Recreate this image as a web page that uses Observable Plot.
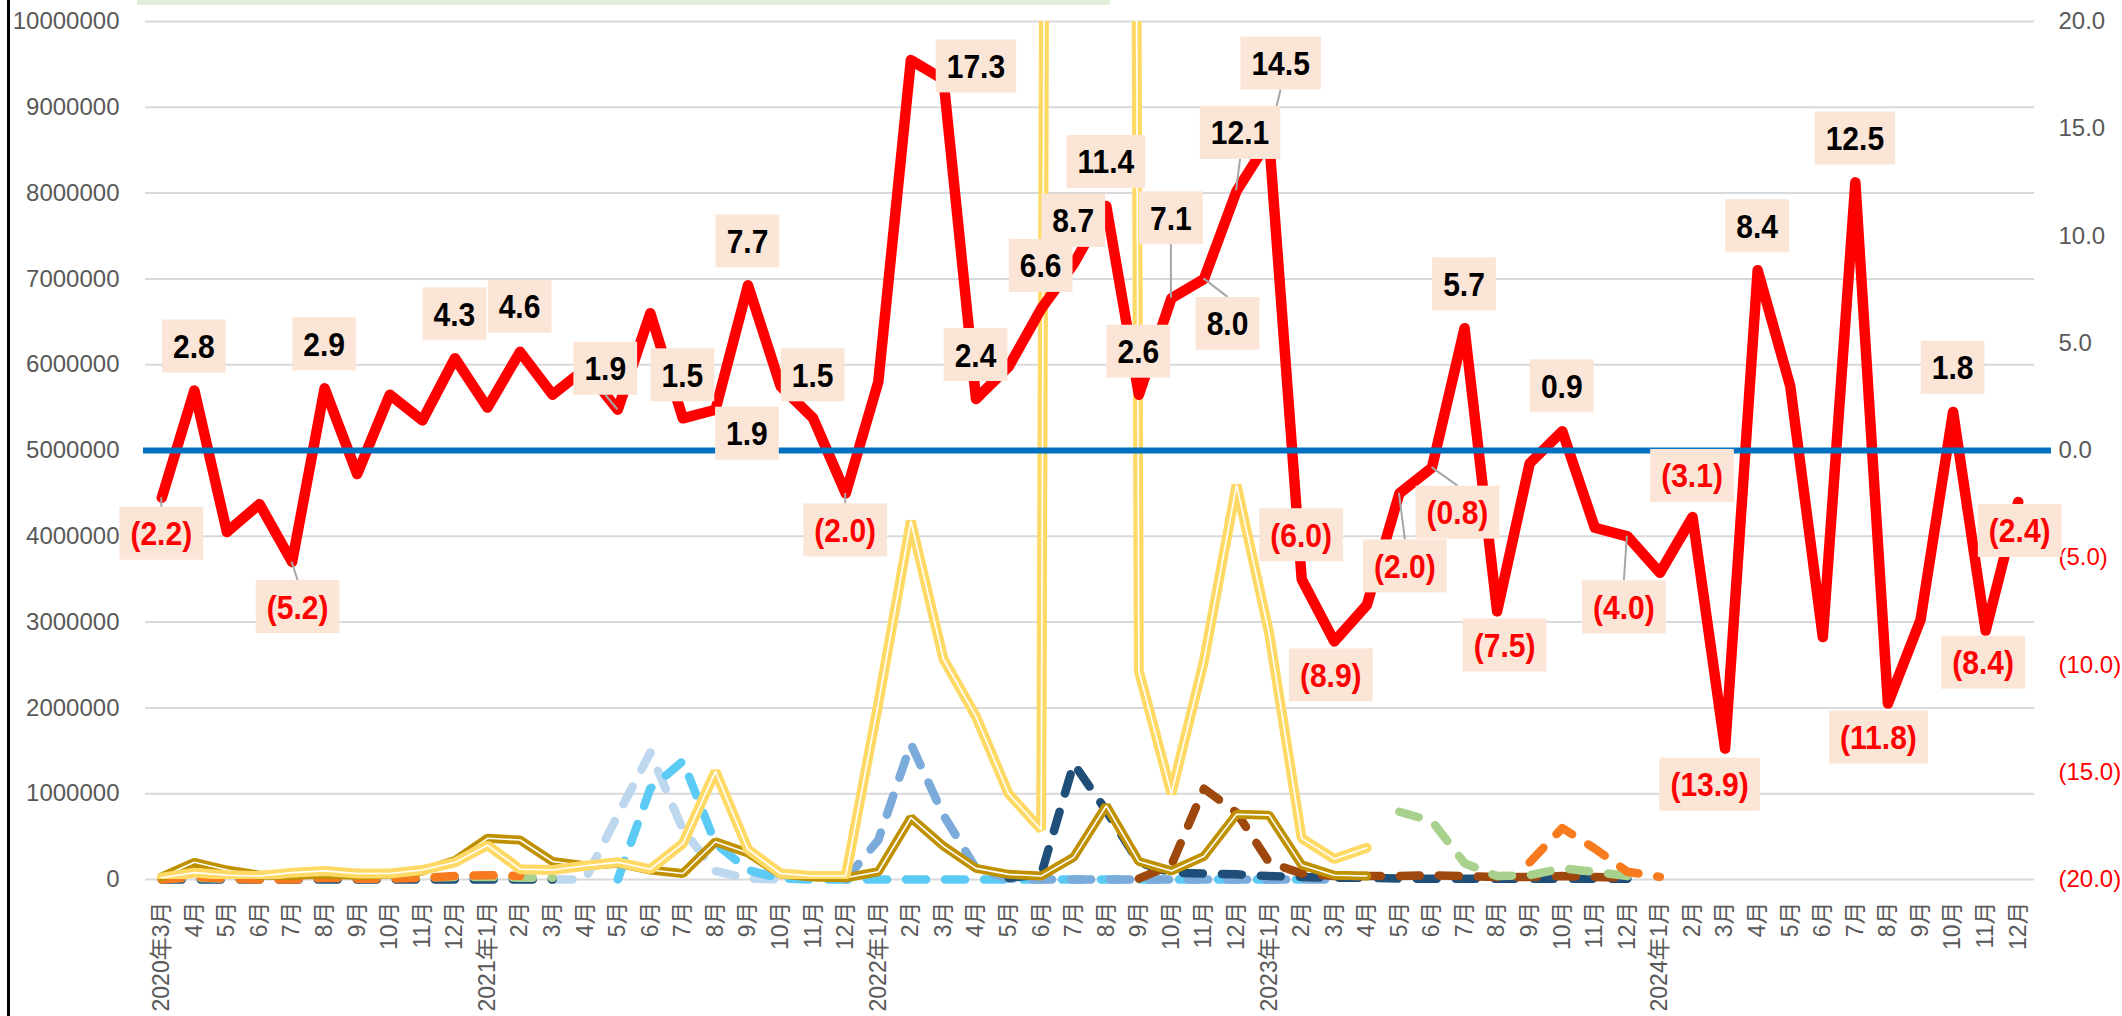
<!DOCTYPE html>
<html>
<head>
<meta charset="utf-8">
<script src="https://cdn.jsdelivr.net/npm/d3@7"></script>
<script src="https://cdn.jsdelivr.net/npm/@observablehq/plot@0.6"></script>
<style>
  html, body { margin: 0; padding: 0; background: #ffffff; }
  #wrap { position: relative; width: 2122px; height: 1016px; overflow: hidden; background: #fff; }
  #chart svg { display: block; }
  #border { position: absolute; left: 7px; top: 0; width: 3px; height: 1016px; background: #000; }
  #titlebar { position: absolute; left: 137px; top: 0; width: 973px; height: 5px; background: #E2EFDA; }
</style>
</head>
<body>
<div id="wrap"><div id="chart"></div><div id="border"></div><div id="titlebar"></div></div>
<script>
// ---------- categories ----------
const years = [2020, 2021, 2022, 2023, 2024];
const firstMonth = {2020: 3};
const months = [];      // keys
const monthLabels = {}; // tick labels
for (const y of years) {
  for (let m = firstMonth[y] || 1; m <= 12; m++) {
    const key = `${y}-${String(m).padStart(2, "0")}`;
    months.push(key);
    monthLabels[key] = (months.length === 1 || m === 1) ? `${y}年${m}月` : `${m}月`;
  }
}

// ---------- right axis series (growth rate, %) ----------
const redRate = [
  -2.2, 2.8, -3.8, -2.5, -5.2, 2.9, -1.1, 2.6, 1.4, 4.3,
  2.0, 4.6, 2.6, 3.8, 1.9, 6.4, 1.5, 1.9, 7.7, 3.0, 1.5, -2.0,
  3.2, 18.2, 17.3, 2.4, 3.9, 6.6, 8.7, 11.4, 2.6, 7.1, 8.0, 12.1,
  14.5, -6.0, -8.9, -7.2, -2.0, -0.8, 5.7, -7.5, -0.6, 0.9, -3.6, -4.0,
  -5.7, -3.1, -13.9, 8.4, 3.0, -8.7, 12.5, -11.8, -7.9, 1.8, -8.4, -2.4
];

// ---------- left axis series (counts) ----------
const _ = null;
const yellowSeries = [
  20000, 80000, 50000, 40000, 80000, 100000, 70000, 70000, 110000, 200000,
  400000, 120000, 110000, 160000, 200000, 120000, 420000, 1260000, 350000, 70000, 40000, 40000,
  2050000, 4180000, 2570000, 1900000, 1000000, 580000, 110000000, 115000000, 2430000, 1000000, 2550000, 4600000,
  2870000, 480000, 240000, 370000, _, _, _, _, _, _, _, _,
  _, _, _, _, _, _, _, _, _, _, _, _
];
const goldSeries = [
  30000, 200000, 110000, 50000, 50000, 60000, 50000, 60000, 100000, 220000,
  480000, 460000, 210000, 160000, 190000, 110000, 70000, 440000, 310000, 60000, 30000, 20000,
  90000, 720000, 390000, 130000, 60000, 40000, 260000, 860000, 210000, 100000, 270000, 760000,
  750000, 170000, 50000, 40000, _, _, _, _, _, _, _, _,
  _, _, _, _, _, _, _, _, _, _, _, _
];
const paleBlueSeries = [
  _, _, _, _, _, _, _, _, _, _,
  _, _, 0, 0, 750000, 1480000, 580000, 100000, 10000, 0, _, _,
  _, _, _, _, _, _, _, _, _, _, _, _,
  _, _, _, _, _, _, _, _, _, _, _, _,
  _, _, _, _, _, _, _, _, _, _, _, _
];
const cyanSeries = [
  _, _, _, _, _, _, _, _, _, _,
  _, _, _, _, 0, 1060000, 1380000, 420000, 110000, 10000, 0, 0,
  0, 0, 0, 0, 0, 0, 0, 0, 0, 0, 0, 0,
  0, 0, _, _, _, _, _, _, _, _, _, _,
  _, _, _, _, _, _, _, _, _, _, _, _
];
const midBlueSeries = [
  _, _, _, _, _, _, _, _, _, _,
  _, _, _, _, _, _, _, _, _, _, _, 0,
  460000, 1580000, 750000, 130000, 10000, 0, 0, 0, 0, 0, 0, 0,
  0, 0, 0, _, _, _, _, _, _, _, _, _,
  _, _, _, _, _, _, _, _, _, _, _, _
];
const navySeries = [
  0, 0, 0, 0, 0, 0, 0, 0, 0, 0,
  0, 0, 0, _, _, _, _, _, _, _, _, _,
  _, _, _, _, 20000, 60000, 1350000, 800000, 200000, 80000, 70000, 60000,
  40000, 30000, 20000, 20000, 10000, 10000, 10000, 10000, 10000, 10000, 10000, 10000,
  _, _, _, _, _, _, _, _, _, _, _, _
];
const brownSeries = [
  _, _, _, _, _, _, _, _, _, _,
  _, _, _, _, _, _, _, _, _, _, _, _,
  _, _, _, _, _, _, _, _, 10000, 170000, 1060000, 780000,
  200000, 70000, 40000, 40000, 40000, 50000, 40000, 30000, 30000, 40000, 30000, 20000,
  _, _, _, _, _, _, _, _, _, _, _, _
];
const greenSeries = [
  10000, 20000, 10000, 10000, 10000, 20000, 20000, 20000, 20000, 30000,
  30000, 20000, 20000, _, _, _, _, _, _, _, _, _,
  _, _, _, _, _, _, _, _, _, _, _, _,
  _, _, _, _, 790000, 680000, 190000, 40000, 50000, 130000, 90000, 40000,
  _, _, _, _, _, _, _, _, _, _, _, _
];
const orangeSeries = [
  0, 30000, 10000, 0, 0, 20000, 10000, 10000, 20000, 40000,
  50000, 40000, _, _, _, _, _, _, _, _, _, _,
  _, _, _, _, _, _, _, _, _, _, _, _,
  _, _, _, _, _, _, _, _, 200000, 600000, 360000, 90000,
  30000, _, _, _, _, _, _, _, _, _, _, _
];

// ---------- axes ticks ----------
const leftTicks = [0, 1000000, 2000000, 3000000, 4000000, 5000000, 6000000, 7000000, 8000000, 9000000, 10000000];
const rightTicks = [20, 15, 10, 5, 0, -5, -10, -15, -20];

// ---------- labelled points of the red series ----------
const labelIdx    = [0, 1, 4, 5, 9, 11, 14, 16, 17, 18, 20, 21, 24, 25, 27, 28, 29, 30, 31, 32, 33, 34, 35, 36, 38, 39, 40, 41, 43, 45, 47, 48, 49, 52, 53, 55, 56, 57];
// label placement (offset of box centre from the point, px) and leader-line flag
const labelDx     = [0, 0, 6, 0, 0, 0, -12, 0, 32, 0, 0, 0, 33, 0, 0, 0, 0, 0, 0, 24, 4, 12, 0, -3, 6, 26, 0, 8, 0, -3, 0, -15, 0, 0, -9, 0, -2, 2];
const labelDy     = [36, -44, 45, -44, -44, -45, -41, -43, 24, -44, -43, 37, -13, -44, -43, -43, -44, -43, -80, 45, -58, -76, -44, 34, 73, 45, -44, 34, -45, 71, -41, 36, -44, -44, 34, -44, 32, 29];
const labelLeader = [1, 0, 1, 0, 0, 0, 1, 0, 0, 0, 0, 1, 0, 0, 0, 0, 0, 0, 1, 1, 1, 1, 0, 0, 1, 1, 0, 0, 0, 1, 0, 0, 0, 0, 0, 0, 0, 0];

// ---------- helpers ----------
const toLeft = v => (v + 20) * 250000;          // right-axis value -> left-axis units
const fmtRate = v => v < 0 ? `(${(-v).toFixed(1)})` : v.toFixed(1);
const rows = arr => months.map((m, i) => ({m, v: arr[i] == null ? NaN : arr[i]}));

const FONT = "'Liberation Sans', Arial, 'Noto Sans CJK JP', sans-serif";

function dashed(arr, color) {
  return Plot.line(rows(arr), {x: "m", y: "v", stroke: color, strokeWidth: 8.5,
    strokeDasharray: "20,19", strokeLinecap: "round", strokeLinejoin: "round"});
}
function doubleLine(arr, color, w, clip) {
  return [
    Plot.line(rows(arr), {x: "m", y: "v", stroke: color, strokeWidth: w, strokeLinejoin: "miter", clip}),
    Plot.line(rows(arr), {x: "m", y: "v", stroke: "#ffffff", strokeWidth: 1.6, strokeLinejoin: "miter", clip})
  ];
}

function labelLayer(index, scales) {
  const ns = "http://www.w3.org/2000/svg";
  const g = document.createElementNS(ns, "g");
  const gl = document.createElementNS(ns, "g");
  const gb = document.createElementNS(ns, "g");
  g.append(gl, gb);
  const FS = 33, SX = 0.91;
  const ctx = document.createElement("canvas").getContext("2d");
  ctx.font = `bold ${FS}px ${FONT}`;
  const h = 53;
  labelIdx.forEach((i, k) => {
    const v = redRate[i];
    const px = scales.x(months[i]);
    const py = scales.y(toLeft(v));
    const cx = px + labelDx[k], cy = py + labelDy[k];
    const txt = fmtRate(v);
    const w = ctx.measureText(txt).width * SX + 22;
    if (labelLeader[k]) {
      const ln = document.createElementNS(ns, "line");
      ln.setAttribute("x1", px); ln.setAttribute("y1", py);
      ln.setAttribute("x2", cx); ln.setAttribute("y2", labelDy[k] < 0 ? cy + h / 2 : cy - h / 2);
      ln.setAttribute("stroke", "#A6A6A6"); ln.setAttribute("stroke-width", 2);
      gl.append(ln);
    }
    const r = document.createElementNS(ns, "rect");
    r.setAttribute("x", cx - w / 2); r.setAttribute("y", cy - h / 2);
    r.setAttribute("width", w); r.setAttribute("height", h);
    r.setAttribute("fill", "#FBE5D6");
    gb.append(r);
    const t = document.createElementNS(ns, "text");
    t.setAttribute("transform", `translate(${cx},${cy + 12}) scale(${SX},1)`);
    t.setAttribute("text-anchor", "middle");
    t.setAttribute("font-family", FONT);
    t.setAttribute("font-size", FS);
    t.setAttribute("font-weight", "bold");
    t.setAttribute("fill", v < 0 ? "#FF0000" : "#000000");
    t.textContent = txt;
    gb.append(t);
  });
  return g;
}

const plot = Plot.plot({
  width: 2122,
  height: 1016,
  marginLeft: 145,
  marginRight: 88,
  marginTop: 21,
  marginBottom: 137,
  style: {fontFamily: FONT, fontSize: "24px", color: "#595959", background: "transparent", overflow: "visible"},
  x: {type: "point", domain: months, padding: 0.5},
  y: {domain: [0, 10000000]},
  marks: [
    Plot.ruleY(leftTicks, {stroke: "#D9D9D9", strokeWidth: 2}),
    Plot.axisY(leftTicks, {anchor: "left", tickSize: 0, tickPadding: 26, label: null,
      tickFormat: d => String(d), fontSize: 24, fill: "#595959"}),
    Plot.axisY(rightTicks.filter(t => t >= 0).map(toLeft), {anchor: "right", tickSize: 0, tickPadding: 24, label: null,
      tickFormat: d => fmtRate(d / 250000 - 20), fontSize: 24, fill: "#595959"}),
    Plot.axisY(rightTicks.filter(t => t < 0).map(toLeft), {anchor: "right", tickSize: 0, tickPadding: 24, label: null,
      tickFormat: d => fmtRate(d / 250000 - 20), fontSize: 24, fill: "#FF0000"}),
    Plot.axisX({anchor: "bottom", tickSize: 0, tickPadding: 22, tickRotate: -90, textAnchor: "end", label: null,
      tickFormat: k => monthLabels[k], fontSize: 23, fill: "#595959",
      fontFamily: "'Liberation Sans', 'Noto Sans CJK JP', sans-serif"}),
    dashed(paleBlueSeries, "#BDD7EE"),
    dashed(cyanSeries, "#5BCBF5"),
    dashed(midBlueSeries, "#7BABDB"),
    dashed(navySeries, "#1F4E79"),
    dashed(brownSeries, "#9E480E"),
    dashed(greenSeries, "#A9D18E"),
    dashed(orangeSeries, "#F77B1E"),
    ...doubleLine(goldSeries, "#BF9000", 9, false),
    ...doubleLine(yellowSeries, "#FFD966", 10, true),
    Plot.line(rows(redRate), {x: "m", y: d => toLeft(d.v), stroke: "#FF0000", strokeWidth: 10.5,
      strokeLinejoin: "round", strokeLinecap: "round"}),
    Plot.ruleY([toLeft(0)], {stroke: "#0070C0", strokeWidth: 6, insetLeft: -2, insetRight: -17}),
    labelLayer
  ]
});
document.getElementById("chart").append(plot);
</script>
</body>
</html>
